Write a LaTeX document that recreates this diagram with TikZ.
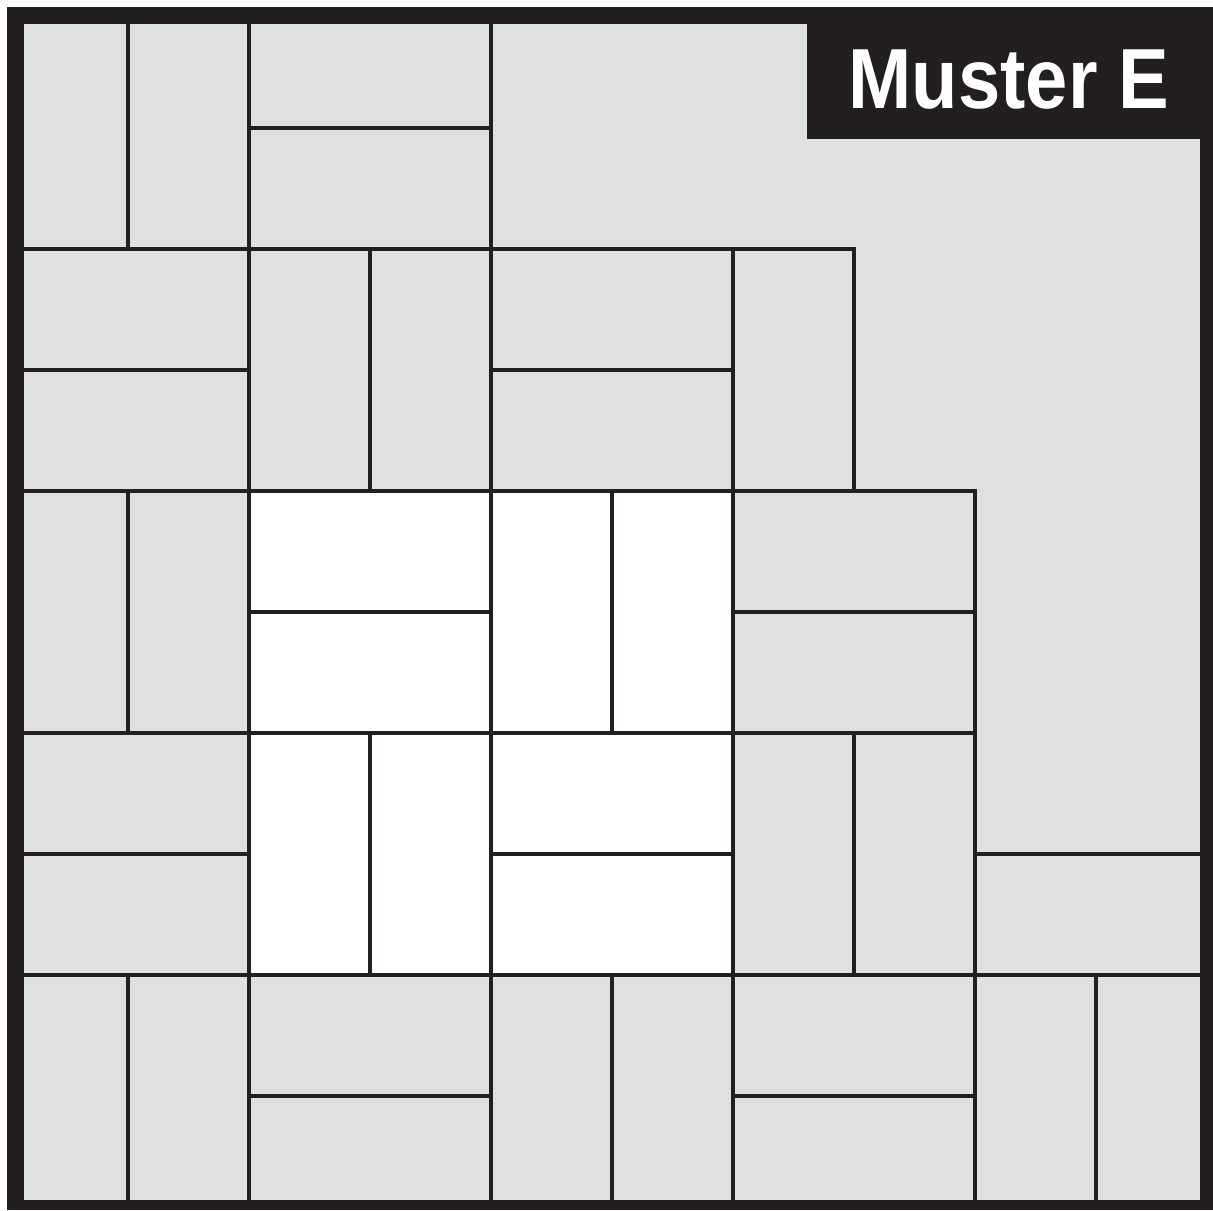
\documentclass[tikz,border=0pt]{standalone}
\usepackage{fontspec}
\newfontfamily\titlefont[FakeStretch=0.89]{Liberation Sans}
\definecolor{ink}{HTML}{231F20}
\definecolor{tile}{HTML}{DFE0E2}
\begin{document}
\begin{tikzpicture}[x=0.75pt,y=-0.75pt,
  seam/.style={draw=ink,line width=3pt,line join=miter}]
\useasboundingbox (0,0) rectangle (1213,1210);
\fill[ink] (7,7) rectangle (1213,1210);
\fill[tile] (24,24) rectangle (1200,1200);
\fill[white] (249,491) rectangle (733,975);
\fill[ink] (807,24) rectangle (1200,139);
\node[anchor=base, text=white, inner sep=0pt,
  font=\titlefont\bfseries\fontsize{64}{64}\selectfont] (title) at (1009,108) {Muster E};
% vertical seams
\draw[seam] (128,24)--(128,249) (128,491)--(128,733) (128,975)--(128,1200);
\draw[seam] (249,24)--(249,1200);
\draw[seam] (370,249)--(370,491) (370,733)--(370,975);
\draw[seam] (491,24)--(491,1200);
\draw[seam] (612,491)--(612,733) (612,975)--(612,1200);
\draw[seam] (733,249)--(733,1200);
\draw[seam] (854,733)--(854,975);
\draw[seam] (1096,975)--(1096,1200);
% horizontal seams
\draw[seam] (249,128)--(491,128);
\draw[seam] (24,249)--(854,249)--(854,491);
\draw[seam] (24,370)--(249,370) (491,370)--(733,370);
\draw[seam] (24,491)--(975,491)--(975,1200);
\draw[seam] (249,612)--(491,612) (733,612)--(975,612);
\draw[seam] (24,733)--(975,733);
\draw[seam] (24,854)--(249,854) (491,854)--(733,854) (975,854)--(1200,854);
\draw[seam] (24,975)--(1200,975);
\draw[seam] (249,1096)--(491,1096) (733,1096)--(975,1096);
\end{tikzpicture}
\end{document}
